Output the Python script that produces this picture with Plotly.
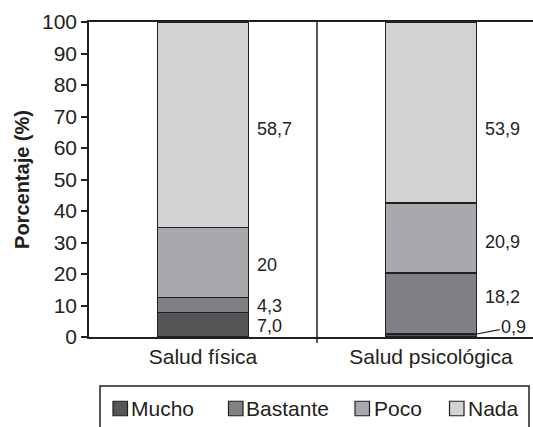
import numpy as np
import plotly.graph_objects as go

# --- data ---------------------------------------------------------------
categorias = ["Salud física", "Salud psicológica"]
niveles = ["Mucho", "Bastante", "Poco", "Nada"]
mucho = [7.0, 0.9]
bastante = [4.3, 18.2]
poco = [20.0, 20.9]
nada = [58.7, 53.9]
etiquetas = {
    "Mucho": ["7,0", "0,9"],
    "Bastante": ["4,3", "18,2"],
    "Poco": ["20", "20,9"],
    "Nada": ["58,7", "53,9"],
}
y_ticks = list(range(0, 101, 10))

# --- style --------------------------------------------------------------
FONT = "Liberation Sans, Arial, Helvetica, sans-serif"
INK = "#231f20"
colores = ["#555658", "#808184", "#a8a9ac", "#d1d2d4"]
W, H = 533, 427
ML, MR, MT, MB = 89, 0, 22, 90
PW, PH = W - ML - MR, H - MT - MB
CAT_PX = 228.0          # pixel width of one category slot
BAR_W = 0.4

def px_x(px):
    return (px - ML) / PW

def px_y(py):
    return (H - MB - py) / PH

series = [mucho, bastante, poco, nada]

fig = go.Figure()
for nombre, vals, col in zip(niveles, series, colores):
    fig.add_trace(go.Bar(
        x=categorias, y=vals, name=nombre, width=BAR_W,
        marker=dict(color=col, line=dict(color=INK, width=1.5)),
        showlegend=False,
    ))

# value labels beside each stacked segment (bars are normalised to 100 %)
arr = np.array(series, dtype=float)
norm = arr / arr.sum(axis=0) * 100
top = np.cumsum(norm, axis=0)
mid = top - norm / 2
yshift = [[-1, None], [-1, 6], [-3, -4], [-4, -16.5]]

annotations = []
for i, nombre in enumerate(niveles):
    for j in range(len(categorias)):
        txt = etiquetas[nombre][j]
        if yshift[i][j] is None:
            # thin segment: label pulled out with a leader line
            annotations.append(dict(
                x=j + BAR_W / 2, y=top[i][j], xref="x", yref="y",
                text=txt, showarrow=True, arrowhead=0, arrowwidth=1.2,
                arrowcolor=INK, ax=37, ay=-7, standoff=0,
                font=dict(family=FONT, size=18, color=INK),
            ))
        else:
            annotations.append(dict(
                x=j + BAR_W / 2, y=mid[i][j], xref="x", yref="y",
                text=txt, showarrow=False, xanchor="left", yanchor="middle",
                xshift=6, yshift=yshift[i][j],
                font=dict(family=FONT, size=18, color=INK),
            ))

# legend drawn as a boxed row of swatches
shapes = [
    dict(type="line", xref="x", yref="paper", x0=0.5, x1=0.5,
         y0=px_y(343), y1=1, line=dict(color=INK, width=1.5)),
    dict(type="rect", xref="paper", yref="paper",
         x0=px_x(100), x1=px_x(529), y0=px_y(386), y1=px_y(445),
         line=dict(color=INK, width=1.5), fillcolor="rgba(0,0,0,0)"),
]
sw_left = [113, 228.5, 355, 449.5]
txt_left = [129, 244, 372, 466]
sw_size = 14.5
cy = 408.5
for nombre, col, sx, tx in zip(niveles, colores, sw_left, txt_left):
    shapes.append(dict(
        type="rect", xref="paper", yref="paper",
        x0=px_x(sx), x1=px_x(sx + sw_size),
        y0=px_y(cy + sw_size / 2), y1=px_y(cy - sw_size / 2),
        fillcolor=col, line=dict(color=INK, width=1.2)))
    annotations.append(dict(
        x=px_x(tx), y=px_y(cy), xref="paper", yref="paper",
        text=nombre, showarrow=False, xanchor="left", yanchor="middle",
        font=dict(family=FONT, size=21, color=INK)))

fig.update_layout(
    width=W, height=H,
    margin=dict(l=ML, r=MR, t=MT, b=MB, pad=0),
    paper_bgcolor="white", plot_bgcolor="white",
    barmode="stack", barnorm="percent",
    font=dict(family=FONT, color=INK),
    shapes=shapes, annotations=annotations,
    xaxis=dict(
        range=[-0.5, -0.5 + PW / CAT_PX],
        showline=True, linecolor=INK, linewidth=1.5, mirror=True,
        showgrid=False, ticks="", zeroline=False,
        tickfont=dict(family=FONT, size=21, color=INK),
    ),
    yaxis=dict(
        range=[0, 100], tickvals=y_ticks,
        showline=True, linecolor=INK, linewidth=1.5,
        ticks="outside", ticklen=6, tickwidth=1.5, tickcolor=INK,
        showgrid=False, zeroline=False,
        tickfont=dict(family=FONT, size=21, color=INK),
        title=dict(text="<b>Porcentaje (%)</b>", standoff=7,
                   font=dict(family=FONT, size=20, color=INK)),
    ),
)

fig.write_html("out.html")
